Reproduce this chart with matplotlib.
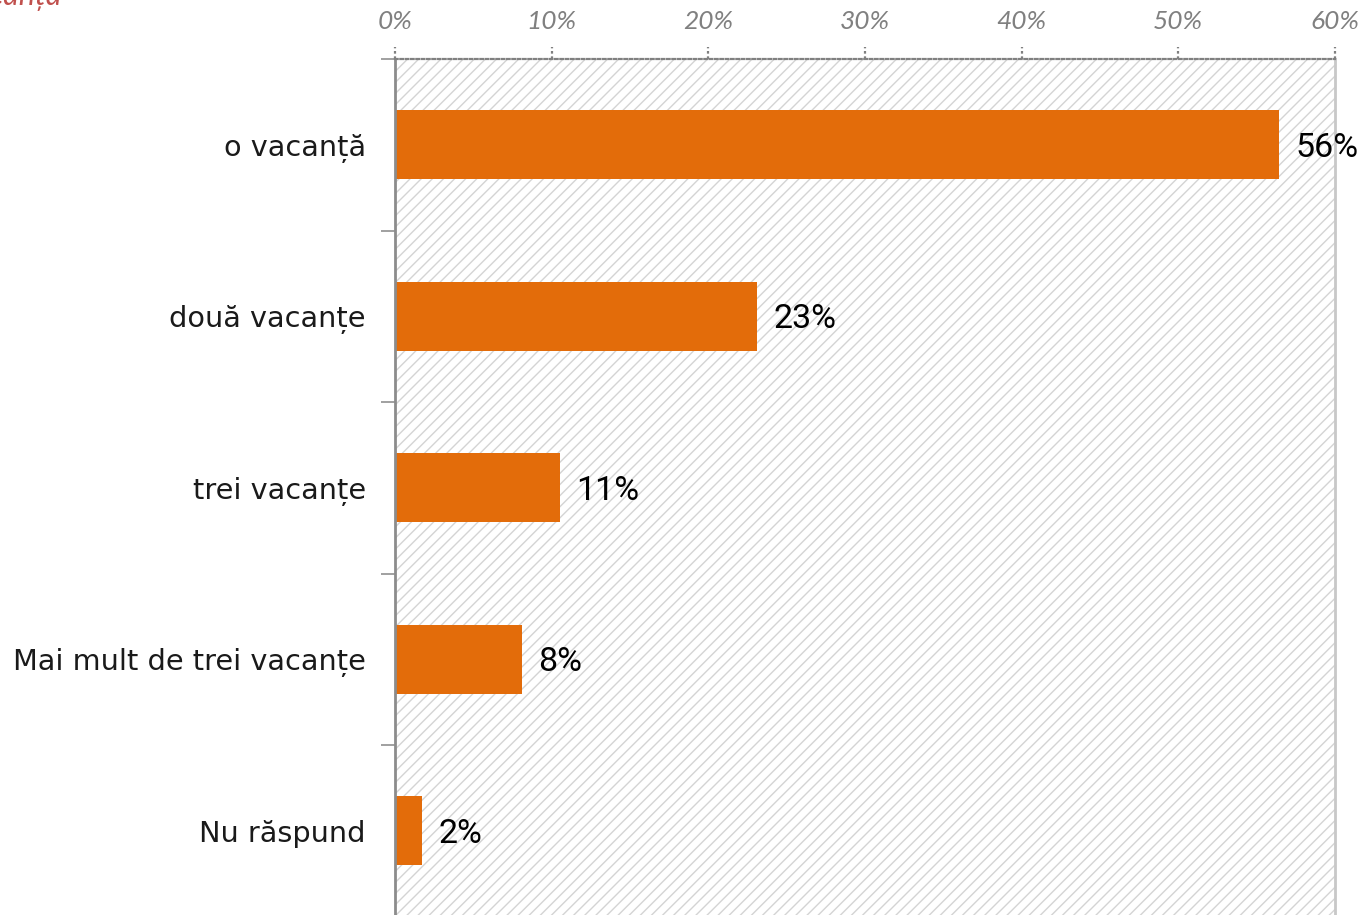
import matplotlib
matplotlib.use("Agg")
import matplotlib.pyplot as plt
import matplotlib.transforms as mtransforms
import numpy as np

categories = ["o vacanță", "două vacanțe", "trei vacanțe", "Mai mult de trei vacanțe", "Nu răspund"]
values = [56.4, 23.1, 10.5, 8.1, 1.7]
value_labels = ["56%", "23%", "11%", "8%", "2%"]
x_ticks = [0, 10, 20, 30, 40, 50, 60]
x_tick_labels = ["0%", "10%", "20%", "30%", "40%", "50%", "60%"]
title_text = "vacanța"

plt.rcParams['hatch.color'] = '#d4d4d4'
plt.rcParams['hatch.linewidth'] = 1.0

fig = plt.figure(figsize=(13.7, 9.15), dpi=100)
ax = fig.add_axes([395/1370, 1 - 916.5/915, 940/1370, (916.5-59)/915])

ax.add_patch(plt.Rectangle((0, 0), 1, 1, transform=ax.transAxes, facecolor='white',
                           hatch='///', edgecolor='#d4d4d4', linewidth=0, zorder=0))
ax.set_facecolor('white')

y = np.arange(len(categories))
bars = ax.barh(y, values, height=0.40, color='#E36C0A', zorder=2)
ax.set_xlim(0, 60)
ax.set_ylim(len(categories) - 0.5, -0.5)

for v, yy, lbl in zip(values, y, value_labels):
    ax.annotate(lbl, xy=(v, yy), xytext=(12, -2), textcoords='offset points',
                ha='left', va='center', fontsize=24.5,
                family=['Roboto', 'DejaVu Sans'], color='black', zorder=6)

ax.xaxis.tick_top()
ax.set_xticks(x_ticks)
ax.set_xticklabels(x_tick_labels, fontsize=19, style='italic', color='#808080',
                   family=['Lato', 'DejaVu Sans'])
ax.tick_params(axis='x', which='major', length=0, pad=19)

# dotted tick marks above the top spine
trans = mtransforms.blended_transform_factory(ax.transData, ax.transAxes)
for xt in x_ticks:
    ax.plot([xt, xt], [1.0, 1.0 + 12/857.5], transform=trans, clip_on=False,
            color='#808080', linestyle=(0, (1.2, 1.2)), linewidth=1.6, zorder=5)

ax.set_yticks(y)
ax.set_yticklabels(categories, fontsize=20.7, family=['DejaVu Sans'], color='#1a1a1a')
ax.set_yticks(np.arange(len(categories) + 1) - 0.5, minor=True)
ax.tick_params(axis='y', which='major', length=0, pad=21)
ax.tick_params(axis='y', which='minor', length=10, color='#909090', width=1.2)

ax.spines['top'].set_linestyle((0, (1.2, 1.2)))
ax.spines['top'].set_color('#808080')
ax.spines['top'].set_linewidth(1.6)
ax.spines['left'].set_color('#8c8c8c')
ax.spines['left'].set_linewidth(2)
ax.spines['right'].set_color('#c8c8c8')
ax.spines['right'].set_linewidth(2)
ax.spines['bottom'].set_visible(False)

fig.text(62/1370, 1 - 5/915, title_text, ha='right', va='baseline', fontsize=22,
         style='italic', color='#C0504D', family=['Lato', 'DejaVu Sans'])

fig.savefig("out.png", dpi=100)
